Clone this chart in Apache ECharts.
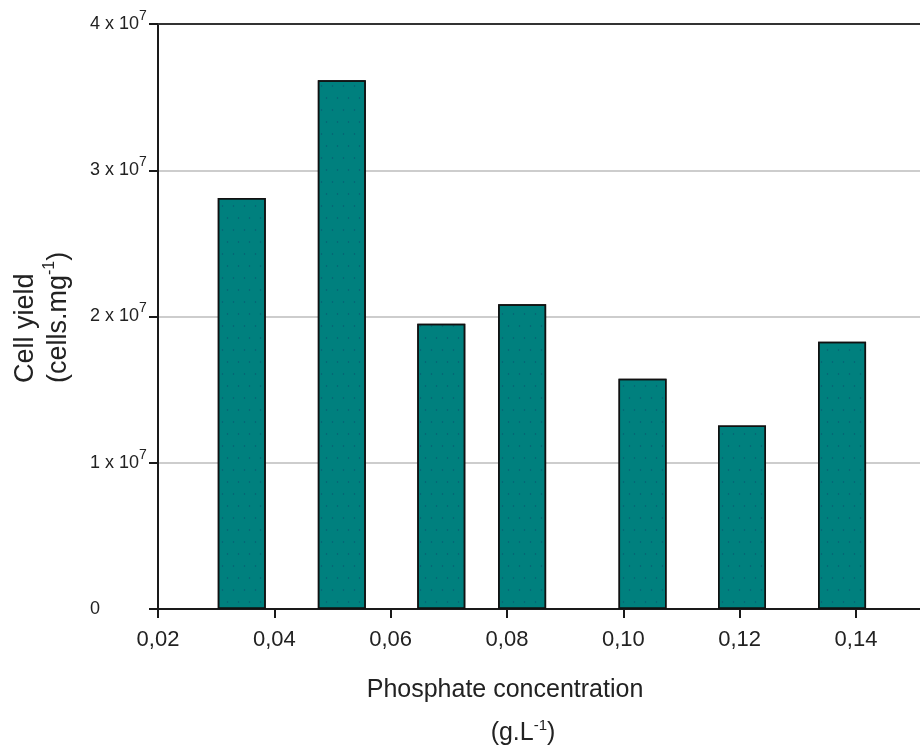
<!DOCTYPE html>
<html>
<head>
<meta charset="utf-8">
<script src="https://cdn.jsdelivr.net/npm/echarts@6/dist/echarts.min.js"></script>
<style>
html,body{margin:0;padding:0;background:#fff;}
#chart{width:920px;height:749px;}
</style>
</head>
<body>
<div id="chart"></div>
<script>
// Phosphate concentration (g.L-1) of each bar
const concentrations = [0.0344, 0.0516, 0.0687, 0.0826, 0.1033, 0.1204, 0.1376];
// Cell yield (cells.mg-1)
const cellYield = [2.81e7, 3.615e7, 1.95e7, 2.083e7, 1.575e7, 1.255e7, 1.828e7];
// x tick values
const xTicks = [0.02, 0.04, 0.06, 0.08, 0.10, 0.12, 0.14];
// y tick exponent labels
const yTickMantissa = ['0', '1', '2', '3', '4'];

const FONT = '"Liberation Sans", Arial, sans-serif';
const TXT = '#222';

const chart = echarts.init(document.getElementById('chart'), null, {renderer: 'canvas'});

const option = {
  animation: false,
  backgroundColor: '#ffffff',
  grid: {left: 158, right: 0, top: 24, bottom: 140, containLabel: false},
  xAxis: [{
    type: 'value',
    min: 0.02,
    max: 0.151,
    interval: 0.02,
    axisLine: {show: true, onZero: false, lineStyle: {color: '#1a1a1a', width: 2}},
    axisTick: {show: true, length: 9, customValues: xTicks, lineStyle: {color: '#1a1a1a', width: 2}},
    axisLabel: {
      customValues: xTicks,
      margin: 20,
      fontFamily: FONT, fontSize: 22, color: TXT,
      formatter: v => v.toFixed(2).replace('.', ',')
    },
    splitLine: {show: false}
  }, {
    type: 'value',
    position: 'top',
    min: 0.02,
    max: 0.151,
    axisLine: {show: true, onZero: false, lineStyle: {color: '#333', width: 2}},
    axisTick: {show: false},
    axisLabel: {show: false},
    splitLine: {show: false}
  }],
  yAxis: {
    type: 'value',
    min: 0,
    max: 4e7,
    interval: 1e7,
    axisLine: {show: true, lineStyle: {color: '#1a1a1a', width: 2}},
    axisTick: {show: true, length: 9, lineStyle: {color: '#1a1a1a', width: 2}},
    splitLine: {show: true, lineStyle: {color: '#bdbdbd', width: 1.5}},
    axisLabel: {
      align: 'left',
      margin: 68,
      formatter: v => {
        const m = yTickMantissa[Math.round(v / 1e7)];
        return v === 0 ? '{a|' + m + '}' : '{a|' + m + ' x 10}{s|7}';
      },
      rich: {
        a: {fontFamily: FONT, fontSize: 18, color: TXT, lineHeight: 30, verticalAlign: 'middle'},
        s: {fontFamily: FONT, fontSize: 14, color: TXT, lineHeight: 16, verticalAlign: 'top'}
      }
    }
  },
  series: [{
    type: 'bar',
    xAxisIndex: 0,
    barWidth: 48,
    data: concentrations.map((c, i) => [c, cellYield[i]]),
    itemStyle: {
      color: '#00807e',
      borderColor: '#111',
      borderWidth: 1.5,
      decal: {
        symbol: 'rect',
        symbolSize: 0.25,
        color: 'rgba(20,40,100,0.55)',
        dashArrayX: [[5, 6], [0, 5, 5, 1]],
        dashArrayY: [4, 8],
        rotation: 0
      }
    }
  }],
  graphic: [
    {
      type: 'text',
      x: 9, y: 383,
      rotation: Math.PI / 2,
      style: {
        text: '{n|Cell yield}\n{n|(cells.mg}{s|-1}{n|)}',
        textAlign: 'left',
        textVerticalAlign: 'top',
        rich: {
          n: {fontFamily: FONT, fontSize: 27, lineHeight: 33, fill: TXT},
          s: {fontFamily: FONT, fontSize: 16, lineHeight: 16, verticalAlign: 'top', fill: TXT}
        }
      }
    },
    {
      type: 'text',
      x: 505, y: 690,
      style: {
        text: 'Phosphate concentration',
        textAlign: 'center',
        textVerticalAlign: 'middle',
        fontFamily: FONT, fontSize: 25, fill: TXT
      }
    },
    {
      type: 'text',
      x: 523, y: 733,
      style: {
        text: '{n|(g.L}{s|-1}{n|)}',
        textAlign: 'center',
        textVerticalAlign: 'middle',
        rich: {
          n: {fontFamily: FONT, fontSize: 25, lineHeight: 30, fill: TXT},
          s: {fontFamily: FONT, fontSize: 15, lineHeight: 15, verticalAlign: 'top', fill: TXT}
        }
      }
    }
  ]
};
chart.setOption(option);
</script>
</body>
</html>
